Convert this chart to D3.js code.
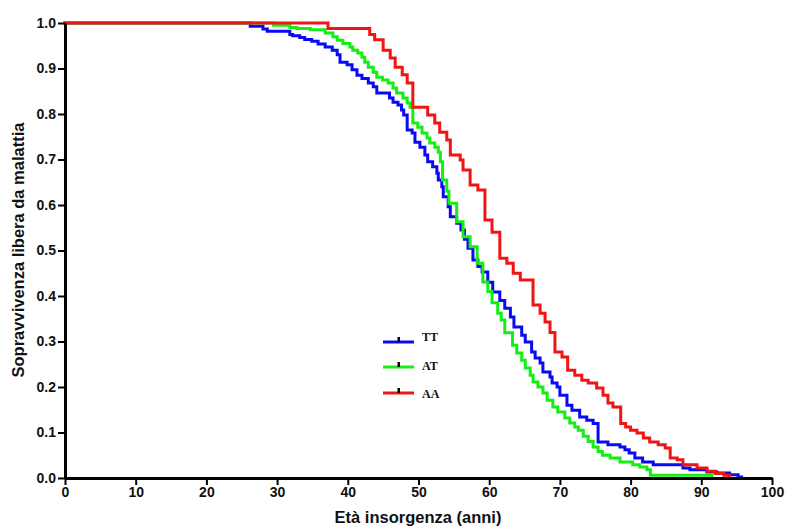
<!DOCTYPE html>
<html><head><meta charset="utf-8">
<script src="https://cdn.jsdelivr.net/npm/d3@7/dist/d3.min.js"></script>
<style>body{margin:0;background:#fff}svg{display:block}</style>
</head><body><svg id="c" width="789" height="528"></svg>
<script>
// ---- data ----
const xTicks = [0,10,20,30,40,50,60,70,80,90,100];
const yTicks = [0,0.1,0.2,0.3,0.4,0.5,0.6,0.7,0.8,0.9,1.0];
const seriesNames = ["TT","AT","AA"];
const seriesColors = ["#0a0af2","#14ee14","#f01414"];
const xTitle = "Età insorgenza (anni)";
const yTitle = "Sopravvivenza libera da malattia";

// [age, survival] step points (Kaplan-Meier)
const ttSteps = [[0,1],[26.2,0.993],[28.0,0.987],[28.6,0.982],[31.8,0.975],[32.2,0.972],[33.2,0.968],[33.9,0.964],[34.9,0.960],[35.8,0.954],[36.8,0.947],[37.8,0.940],[38.5,0.930],[38.9,0.914],[39.9,0.908],[40.6,0.897],[41.3,0.885],[42.0,0.878],[42.9,0.868],[43.6,0.860],[44.1,0.846],[45.9,0.835],[46.4,0.826],[47.1,0.820],[47.6,0.809],[47.9,0.798],[48.4,0.765],[49.1,0.758],[49.5,0.738],[50.2,0.727],[50.9,0.710],[51.3,0.695],[52.0,0.684],[52.6,0.670],[52.8,0.655],[53.3,0.640],[53.5,0.618],[54.2,0.596],[54.5,0.574],[55.4,0.560],[56.0,0.545],[56.5,0.525],[57.0,0.505],[57.7,0.479],[58.4,0.465],[59.0,0.453],[59.8,0.430],[60.5,0.409],[61.5,0.390],[62.2,0.373],[63.0,0.354],[63.5,0.332],[64.6,0.314],[65.1,0.299],[66.0,0.277],[66.5,0.264],[67.2,0.253],[67.6,0.233],[68.6,0.222],[68.9,0.209],[69.6,0.200],[70.0,0.182],[71.0,0.160],[71.7,0.149],[72.8,0.134],[73.8,0.127],[74.7,0.120],[75.4,0.079],[76.8,0.073],[78.5,0.068],[79.2,0.062],[79.8,0.055],[80.6,0.044],[81.7,0.035],[83.2,0.029],[87.4,0.022],[88.4,0.018],[90.8,0.013],[92.2,0.011],[94.0,0.007],[95.2,0.002],[95.7,0]];

const atSteps = [[0,1],[29.5,0.995],[31.8,0.990],[32.8,0.988],[34.7,0.985],[36.8,0.978],[37.9,0.970],[38.5,0.962],[39.3,0.955],[40.3,0.947],[40.7,0.940],[41.4,0.934],[42.0,0.925],[42.4,0.914],[42.9,0.903],[43.6,0.892],[44.1,0.881],[44.9,0.875],[45.7,0.868],[46.4,0.857],[46.9,0.846],[47.8,0.835],[48.4,0.824],[48.8,0.815],[49.2,0.780],[49.9,0.771],[50.5,0.758],[51.2,0.747],[51.6,0.736],[52.3,0.727],[52.8,0.716],[53.1,0.695],[53.4,0.655],[54.0,0.630],[54.3,0.604],[55.4,0.563],[56.3,0.530],[57.3,0.508],[58.3,0.472],[59.1,0.431],[59.8,0.410],[60.4,0.385],[61.2,0.362],[61.7,0.347],[62.2,0.319],[63.3,0.292],[63.9,0.275],[64.6,0.259],[65.1,0.242],[65.8,0.226],[66.2,0.211],[66.9,0.200],[67.6,0.187],[68.2,0.171],[69.0,0.156],[69.7,0.145],[70.7,0.132],[71.4,0.121],[72.1,0.112],[72.6,0.105],[73.3,0.092],[74.0,0.080],[74.7,0.068],[75.4,0.058],[76.0,0.050],[77.1,0.044],[78.5,0.035],[80.3,0.029],[81.3,0.024],[82.3,0.018],[82.8,0.006],[91.5,0]];

const aaSteps = [[0,1],[37.2,0.988],[43.1,0.975],[43.8,0.963],[45.0,0.940],[46.0,0.923],[46.7,0.903],[47.7,0.886],[48.4,0.868],[49.2,0.815],[51.3,0.798],[52.3,0.780],[53.0,0.760],[54.0,0.743],[54.5,0.710],[55.9,0.699],[56.3,0.677],[57.3,0.644],[58.4,0.633],[59.4,0.567],[60.4,0.540],[61.5,0.483],[62.5,0.472],[63.4,0.450],[64.4,0.435],[66.2,0.380],[67.2,0.362],[67.9,0.343],[68.6,0.320],[69.3,0.277],[70.3,0.266],[71.1,0.237],[72.1,0.226],[73.1,0.215],[74.0,0.209],[75.2,0.198],[76.1,0.182],[76.8,0.165],[77.5,0.156],[78.6,0.120],[79.3,0.112],[80.0,0.105],[80.9,0.099],[81.8,0.088],[82.7,0.079],[83.9,0.073],[84.9,0.066],[85.6,0.044],[86.6,0.040],[87.4,0.029],[89.4,0.022],[90.8,0.015],[92.0,0.010],[93.2,0.006],[94.0,0]];

const allSteps = [ttSteps, atSteps, aaSteps];

// ---- drawing ----
const svg = d3.select("#c");
const x = d3.scaleLinear().domain([0,100]).range([65,772]);
const y = d3.scaleLinear().domain([0,1]).range([478,23]);
const font = "'Liberation Sans', Arial, sans-serif";

const line = d3.line().x(d=>x(d[0])).y(d=>y(d[1])).curve(d3.curveStepAfter);

svg.append("g").selectAll("path").data(allSteps).join("path")
  .attr("d", line).attr("fill","none")
  .attr("stroke",(d,i)=>seriesColors[i]).attr("stroke-width",3)
  .attr("stroke-linejoin","miter").attr("stroke-linecap","square");

const yAxis = svg.append("g").attr("transform",`translate(${x(0)},0)`)
  .call(d3.axisLeft(y).tickValues(yTicks).tickFormat(d3.format(".1f")).tickSize(7).tickSizeOuter(0).tickPadding(2));
const xAxis = svg.append("g").attr("transform",`translate(0,${y(0)})`)
  .call(d3.axisBottom(x).tickValues(xTicks).tickFormat(d3.format("d")).tickSize(7).tickSizeOuter(0).tickPadding(2));
[yAxis,xAxis].forEach(g=>{
  g.select(".domain").attr("stroke","#000").attr("stroke-width",3);
  g.selectAll(".tick line").attr("stroke","#000").attr("stroke-width",2);
  g.selectAll(".tick text").attr("fill","#111").style("font-family",font)
    .style("font-weight","bold").style("font-size","14px");
});

svg.append("text").attr("x",418).attr("y",523).attr("text-anchor","middle")
  .style("font-family",font).style("font-weight","bold").style("font-size","16.5px")
  .attr("fill","#111").text(xTitle);
svg.append("text").attr("transform","translate(24,250) rotate(-90)").attr("text-anchor","middle")
  .style("font-family",font).style("font-weight","bold").style("font-size","16.5px")
  .attr("fill","#111").text(yTitle);

// legend
const legY = [342,367,393];
const leg = svg.append("g").selectAll("g").data(seriesNames).join("g")
  .attr("transform",(d,i)=>`translate(383,${legY[i]})`);
leg.append("line").attr("x1",0).attr("x2",31).attr("y1",0).attr("y2",0)
  .attr("stroke",(d,i)=>seriesColors[i]).attr("stroke-width",3);
leg.append("rect").attr("x",14.5).attr("y",-5).attr("width",2.5).attr("height",5).attr("fill","#000");
leg.append("text").attr("x",39).attr("y",(d,i)=>[-1,3,5][i])
  .style("font-family","'Liberation Serif','Times New Roman',serif").style("font-weight","bold")
  .style("font-size","12px").attr("fill","#111").text(d=>d);
</script></body></html>
